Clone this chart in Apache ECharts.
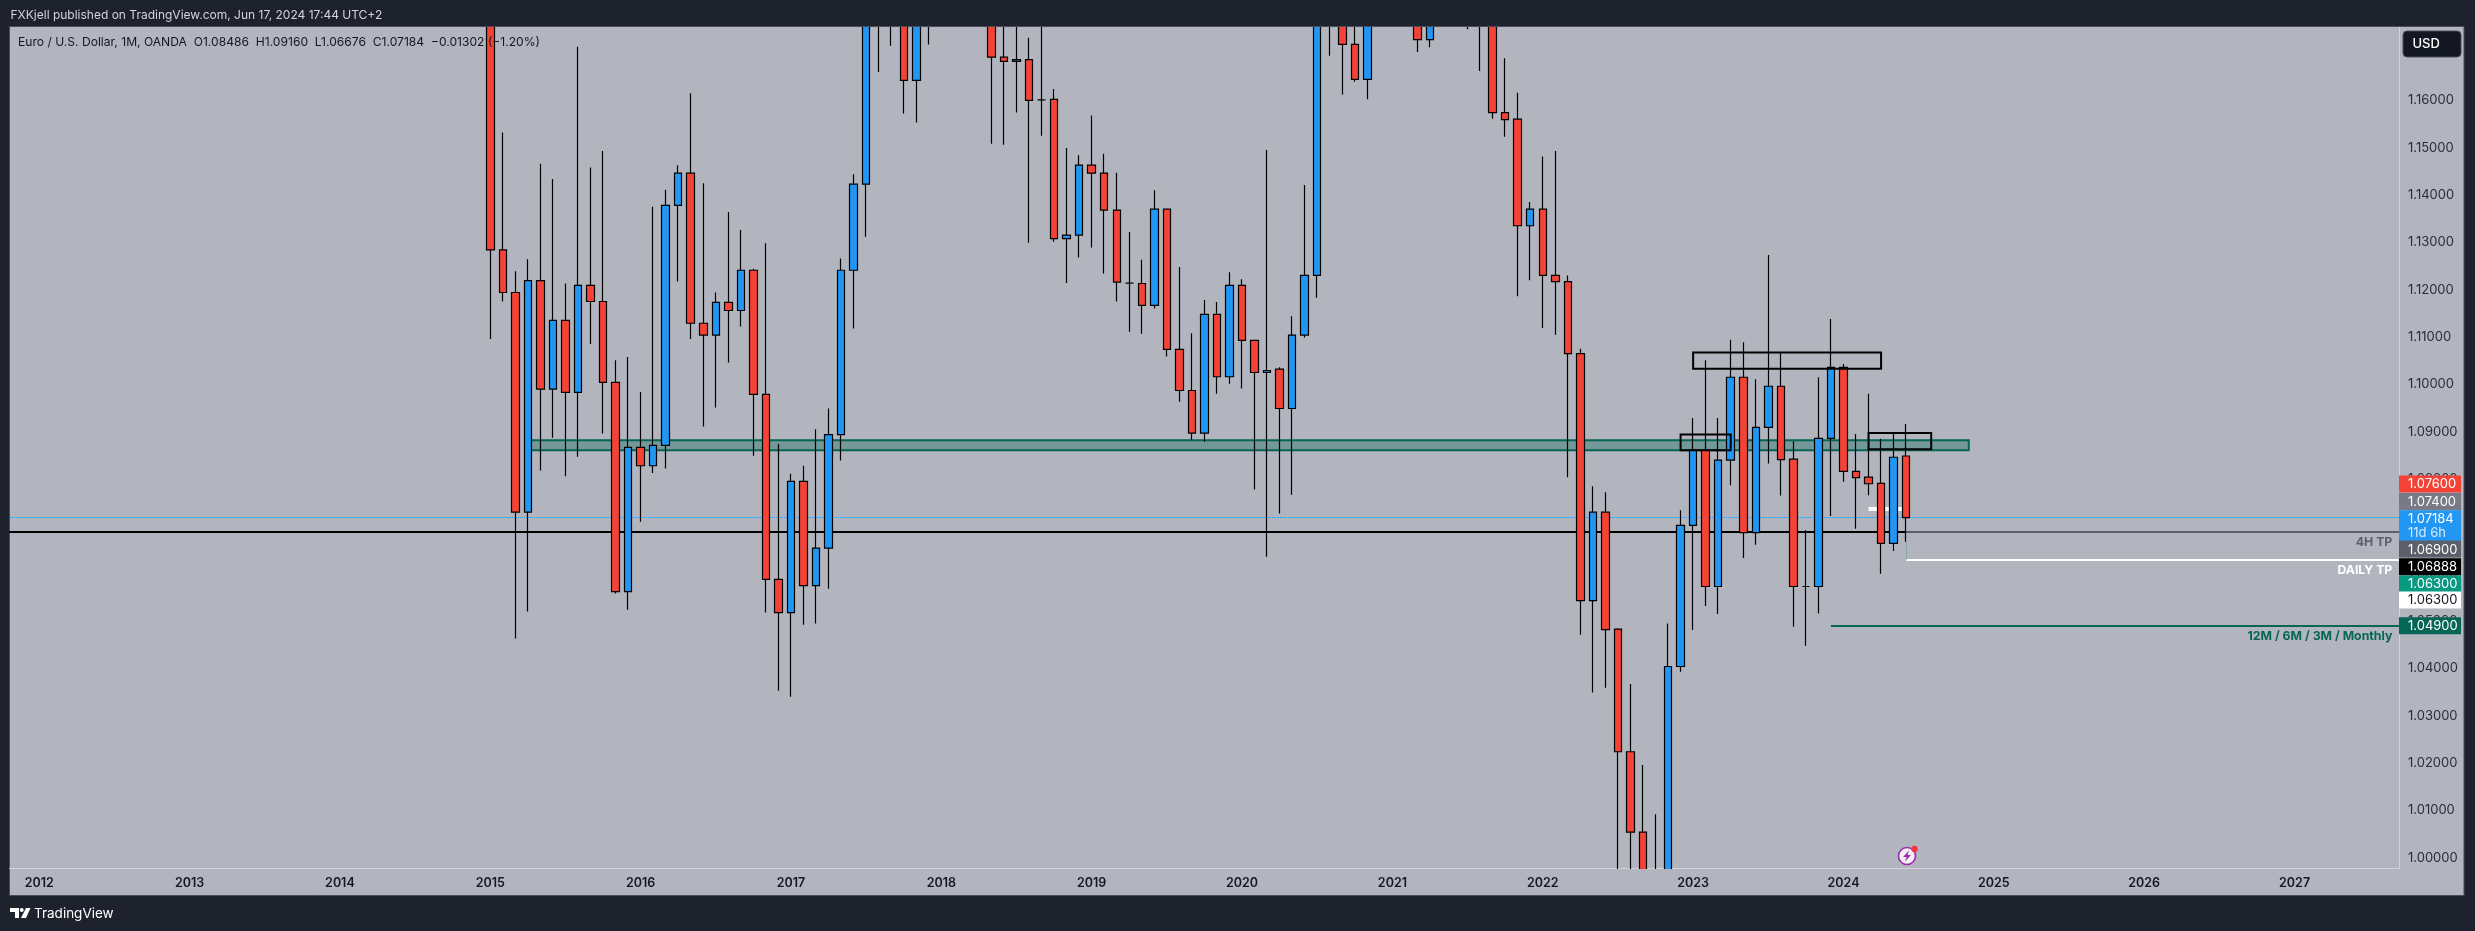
<!DOCTYPE html>
<html>
<head>
<meta charset="utf-8">
<title>Euro / U.S. Dollar, 1M, OANDA</title>
<style>
  html, body { margin: 0; padding: 0; background: #1e222d; }
  #chart { width: 2475px; height: 931px; }
</style>
<script src="https://cdn.jsdelivr.net/npm/echarts@6/dist/echarts.min.js"></script>
</head>
<body>
<div id="chart"></div>
<script>
// monthly candles, Jan 2015 .. Jun 2024
// (months whose body runs off the top/bottom of the pane are estimates)
const opens = [
  1.2097, 1.1284, 1.1194, 1.0730, 1.1219, 1.0990, 1.1135, 1.0983, 1.1209, 1.1175, 1.1004, 1.0562,
  1.0867, 1.0828, 1.0871, 1.1378, 1.1446, 1.1129, 1.1104, 1.1173, 1.1156, 1.1241, 1.0979, 1.0588,
  1.0518, 1.0795, 1.0575, 1.0654, 1.0894, 1.1241, 1.1423, 1.1840, 1.1910, 1.1812, 1.1642, 1.1900,
  1.2000, 1.2410, 1.2290, 1.2320, 1.2080, 1.1691, 1.1682, 1.1686, 1.1601, 1.1602, 1.1308, 1.1315,
  1.1463, 1.1446, 1.1368, 1.1214, 1.1213, 1.1167, 1.1370, 1.1074, 1.0987, 1.0897, 1.1148, 1.1016,
  1.1209, 1.1093, 1.1025, 1.1032, 1.0949, 1.1104, 1.1230, 1.1779, 1.1935, 1.1718, 1.1644, 1.1950,
  1.2215, 1.2135, 1.2075, 1.1728, 1.2020, 1.2230, 1.1860, 1.1870, 1.1810, 1.1574, 1.1560, 1.1335,
  1.1370, 1.1230, 1.1217, 1.1065, 1.0543, 1.0730, 1.0483, 1.0224, 1.0054, 0.9800, 0.9885, 1.0404,
  1.0702, 1.0861, 1.0573, 1.0840, 1.1015, 1.0687, 1.0909, 1.0996, 1.0842, 1.0573, 1.0573, 1.0886,
  1.1036, 1.0816, 1.0804, 1.0791, 1.0664, 1.08486
];
const closes = [
  1.1284, 1.1194, 1.0730, 1.1219, 1.0990, 1.1135, 1.0983, 1.1209, 1.1175, 1.1004, 1.0562, 1.0867,
  1.0828, 1.0871, 1.1378, 1.1446, 1.1129, 1.1104, 1.1173, 1.1156, 1.1241, 1.0979, 1.0588, 1.0518,
  1.0795, 1.0575, 1.0654, 1.0894, 1.1241, 1.1423, 1.1840, 1.1910, 1.1812, 1.1642, 1.1900, 1.2000,
  1.2410, 1.2290, 1.2320, 1.2080, 1.1691, 1.1682, 1.1686, 1.1600, 1.1601, 1.1308, 1.1315, 1.1463,
  1.1446, 1.1368, 1.1216, 1.1214, 1.1167, 1.1370, 1.1074, 1.0987, 1.0897, 1.1148, 1.1016, 1.1209,
  1.1093, 1.1025, 1.1029, 1.0949, 1.1104, 1.1230, 1.1779, 1.1935, 1.1718, 1.1644, 1.1950, 1.2215,
  1.2135, 1.2075, 1.1728, 1.2020, 1.2230, 1.1860, 1.1870, 1.1810, 1.1574, 1.1559, 1.1335, 1.1370,
  1.1230, 1.1217, 1.1065, 1.0543, 1.0730, 1.0482, 1.0224, 1.0054, 0.9800, 0.9885, 1.0404, 1.0702,
  1.0861, 1.0573, 1.0840, 1.1015, 1.0687, 1.0909, 1.0996, 1.0841, 1.0573, 1.0573, 1.0886, 1.1036,
  1.0816, 1.0803, 1.0790, 1.0664, 1.0846, 1.07184
];
const lows = [
  1.1096, 1.1175, 1.0463, 1.0520, 1.0818, 1.0887, 1.0806, 1.0847, 1.1085, 1.0896, 1.0558, 1.0524,
  1.0710, 1.0813, 1.0822, 1.1217, 1.1096, 1.0911, 1.0951, 1.1046, 1.1122, 1.0849, 1.0518, 1.0353,
  1.0340, 1.0492, 1.0495, 1.0568, 1.0839, 1.1118, 1.1312, 1.1660, 1.1715, 1.1572, 1.1553, 1.1718,
  1.1915, 1.2205, 1.2155, 1.2055, 1.1508, 1.1506, 1.1574, 1.1299, 1.1525, 1.1301, 1.1214, 1.1268,
  1.1289, 1.1234, 1.1175, 1.1111, 1.1107, 1.1160, 1.1059, 1.0963, 1.0883, 1.0879, 1.0980, 1.1001,
  1.0991, 1.0778, 1.0636, 1.0727, 1.0767, 1.1099, 1.1183, 1.1694, 1.1612, 1.1639, 1.1602, 1.1925,
  1.2060, 1.1950, 1.1702, 1.1712, 1.1985, 1.1845, 1.1750, 1.1662, 1.1561, 1.1523, 1.1186, 1.1220,
  1.1119, 1.1105, 1.0804, 1.0471, 1.0349, 1.0359, 0.9950, 0.9900, 0.9535, 0.9630, 0.9730, 1.0393,
  1.0481, 1.0532, 1.0515, 1.0787, 1.0633, 1.0661, 1.0833, 1.0765, 1.0488, 1.0448, 1.0516, 1.0722,
  1.0794, 1.0695, 1.0766, 1.0600, 1.0648, 1.06676
];
const highs = [
  1.2100, 1.1532, 1.1239, 1.1264, 1.1466, 1.1434, 1.1213, 1.1713, 1.1458, 1.1493, 1.1051, 1.1058,
  1.0984, 1.1375, 1.1411, 1.1463, 1.1615, 1.1425, 1.1194, 1.1364, 1.1326, 1.1244, 1.1298, 1.0874,
  1.0811, 1.0828, 1.0905, 1.0949, 1.1266, 1.1444, 1.1910, 1.2070, 1.2090, 1.1880, 1.1960, 1.2030,
  1.2535, 1.2555, 1.2445, 1.2415, 1.2090, 1.1850, 1.1790, 1.1732, 1.1815, 1.1624, 1.1499, 1.1484,
  1.1568, 1.1487, 1.1447, 1.1322, 1.1263, 1.1410, 1.1370, 1.1248, 1.1108, 1.1178, 1.1174, 1.1237,
  1.1222, 1.1093, 1.1495, 1.1036, 1.1144, 1.1421, 1.1910, 1.2010, 1.2010, 1.1880, 1.2000, 1.2275,
  1.2350, 1.2245, 1.2115, 1.2150, 1.2265, 1.2255, 1.1910, 1.1905, 1.1910, 1.1689, 1.1616, 1.1385,
  1.1481, 1.1493, 1.1230, 1.1075, 1.0785, 1.0772, 1.0485, 1.0367, 1.0196, 1.0092, 1.0495, 1.0734,
  1.0929, 1.1051, 1.0929, 1.1094, 1.1089, 1.1011, 1.1273, 1.1066, 1.0880, 1.0692, 1.1015, 1.1138,
  1.1043, 1.0895, 1.0980, 1.0885, 1.0895, 1.09160
];

const priceTicks = [1.00, 1.01, 1.02, 1.03, 1.04, 1.05, 1.06, 1.07, 1.08, 1.09, 1.10, 1.11, 1.12, 1.13, 1.14, 1.15, 1.16];

// price tags on the right scale, top to bottom
const tagPrices = [1.076, 1.074, 1.07184, 1.069, 1.06888, 1.063, 1.063, 1.049];
const tagTexts = ['1.07600', '1.07400', '1.07184', '1.06900', '1.06888', '1.06300', '1.06300', '1.04900'];
const tagFills = ['#f44336', '#787b86', '#2196f3', '#5d606b', '#000000', '#089981', '#ffffff', '#056656'];
const tagInks = ['#ffffff', '#ffffff', '#ffffff', '#ffffff', '#ffffff', '#ffffff', '#131722', '#ffffff'];
const tagNudge = [-14, -6, 1, 18, 35, 24.5, 40.5, 0]; // tags get pushed apart so they do not overlap

const months = [];
for (let y = 2011; y <= 2027; y++) {
  for (let m = 1; m <= 12; m++) {
    if ((y === 2011 && m < 11) || (y === 2027 && m > 10)) continue;
    months.push(y + '-' + String(m).padStart(2, '0'));
  }
}
const at = function (month) {
  return months.indexOf(month);
};

const UP = '#2196f3';
const DOWN = '#f44336';
const TEAL = '#056656';
const FONT = 'Inter, "Noto Sans", sans-serif';

const Y_MIN = 0.99784;
const Y_MAX = 1.17548;
const AXIS_SHIFT = -14.6; // last category runs past the price scale so right-hand lines reach it

// candlestick series does not clip its boxes, so hold them just past the pane edge
const hold = function (v) {
  return Math.min(Y_MAX + 0.0004, Math.max(Y_MIN - 0.0004, v));
};

const first = at('2015-01');
const candles = months.map(function (m, i) {
  const k = i - first;
  if (k < 0 || k >= opens.length) return ['-', '-', '-', '-'];
  return [hold(opens[k]), hold(closes[k]), hold(lows[k]), hold(highs[k])];
});

const hLine = function (from, to, price, color, width, type, label) {
  const style = { color: color, width: width, type: type };
  if (from === -Infinity) {
    return [
      { xAxis: from, yAxis: price, lineStyle: style, label: { show: false } },
      { xAxis: to, yAxis: price, lineStyle: style }
    ];
  }
  return [
    { coord: [from, price], lineStyle: style, label: label || { show: false } },
    { coord: [to, price], lineStyle: style }
  ];
};

const sideText = function (text, color) {
  return {
    show: true,
    position: 'insideEndBottom',
    formatter: text,
    color: color,
    fontFamily: FONT,
    fontSize: 12.3,
    fontWeight: 700,
    distance: [15, 5]
  };
};

const box = function (from, to, top, bottom) {
  return [
    { coord: [at(from), top] },
    { coord: [at(to), bottom] }
  ];
};

const renderTag = function (params, api) {
  const i = api.value(2);
  const cs = params.coordSys;
  const left = cs.x + cs.width + AXIS_SHIFT;
  const mid = api.coord([0, api.value(1)])[1] + tagNudge[i];
  const hasCountdown = tagTexts[i] === '1.07184';
  const h = hasCountdown ? 31 : 17;
  const children = [{
    type: 'rect',
    shape: { x: left, y: hasCountdown ? mid - 8.5 : mid - h / 2, width: 62, height: h },
    style: { fill: tagFills[i] }
  }, {
    type: 'text',
    style: {
      text: tagTexts[i], x: left + 9, y: mid + 0.5, fill: tagInks[i],
      font: '13px ' + FONT, verticalAlign: 'middle', align: 'left'
    }
  }];
  if (hasCountdown) {
    children.push({
      type: 'text',
      style: {
        text: '11d 6h', x: left + 9, y: mid + 14, fill: '#d6e9fb',
        font: '13px ' + FONT, verticalAlign: 'middle', align: 'left'
      }
    });
  }
  return { type: 'group', children: children };
};

const option = {
  animation: false,
  backgroundColor: '#1e222d',
  graphic: [
    { type: 'rect', z: -10, silent: true, shape: { x: 9.5, y: 26.5, width: 2454.5, height: 869 },
      style: { fill: '#b2b5be', stroke: '#4a4e5a', lineWidth: 1 } },
    // masks over the pane edges
    { type: 'rect', z: 100, silent: true, shape: { x: 0, y: 27, width: 9, height: 869 }, style: { fill: '#1e222d' } },
    { type: 'rect', z: 100, silent: true, shape: { x: 0, y: 0, width: 2475, height: 26 }, style: { fill: '#1e222d' } },
    { type: 'rect', z: 100, silent: true, shape: { x: 9, y: 26, width: 2455, height: 1 }, style: { fill: '#4a4e5a' } },
    { type: 'rect', z: 100, silent: true, shape: { x: 10, y: 869, width: 2400, height: 3 }, style: { fill: '#b2b5be' } },
    { type: 'rect', z: 100, silent: true, shape: { x: 2400, y: 866, width: 15, height: 4 }, style: { fill: '#b2b5be' } },
    { type: 'text', z: 101, style: { text: 'FXKjell published on TradingView.com, Jun 17, 2024 17:44 UTC+2',
      x: 10.5, y: 15.7, fill: '#d1d4dc', font: '12px ' + FONT, verticalAlign: 'middle' } },
    { type: 'text', z: 101, style: { text: 'Euro / U.S. Dollar, 1M, OANDA  O1.08486  H1.09160  L1.06676  C1.07184  \u22120.01302 (\u22121.20%)',
      x: 18, y: 42.7, fill: '#131722', font: '12.1px ' + FONT, verticalAlign: 'middle' } },
    { type: 'rect', z: 100, shape: { x: 2403, y: 31, width: 58, height: 26, r: 4 },
      style: { fill: '#131722', stroke: '#4a4e5a', lineWidth: 1 } },
    { type: 'text', z: 101, style: { text: 'USD', x: 2412.5, y: 44, fill: '#ffffff', font: '500 13px ' + FONT, verticalAlign: 'middle' } },
    // lightning badge
    { type: 'circle', z: 100, shape: { cx: 1907, cy: 856, r: 8.5 }, style: { fill: '#f4eef6', stroke: '#9c27b0', lineWidth: 1.6 } },
    { type: 'polygon', z: 101, shape: { points: [[1909, 850.5], [1903, 857], [1906.5, 857], [1905, 861.5], [1911, 855], [1907.5, 855]] }, style: { fill: '#9c27b0' } },
    { type: 'circle', z: 102, shape: { cx: 1914.5, cy: 849, r: 3.2 }, style: { fill: '#f23645' } },
    // TradingView logo
    { type: 'polygon', z: 100, shape: { points: [[10, 908], [19, 908], [19, 918], [15, 918], [15, 912], [10, 912]] }, style: { fill: '#ffffff' } },
    { type: 'circle', z: 100, shape: { cx: 21.7, cy: 910, r: 2 }, style: { fill: '#ffffff' } },
    { type: 'polygon', z: 100, shape: { points: [[26, 908], [30.5, 908], [26, 918], [21, 918]] }, style: { fill: '#ffffff' } },
    { type: 'text', z: 100, style: { text: 'TradingView', x: 34, y: 914, fill: '#ffffff', font: '13.5px ' + FONT, verticalAlign: 'middle' } }
  ],
  grid: { left: 7.87, width: 2405.73, top: 27, height: 841 },
  xAxis: {
    type: 'category',
    data: months,
    axisLine: { lineStyle: { color: '#d1d4dc', width: 1 } },
    axisTick: { show: false },
    splitLine: { show: false },
    axisLabel: {
      interval: function (i, v) { return v.endsWith('-01'); },
      formatter: function (v) { return v.slice(0, 4); },
      color: '#131722',
      fontFamily: FONT,
      fontSize: 12.5,
      fontWeight: 600,
      margin: 9
    }
  },
  yAxis: {
    type: 'value',
    position: 'right',
    offset: AXIS_SHIFT,
    min: Y_MIN,
    max: Y_MAX,
    axisLine: { show: true, lineStyle: { color: '#d1d4dc', width: 1 } },
    axisTick: { show: false },
    splitLine: { show: false },
    axisLabel: {
      customValues: priceTicks,
      formatter: function (v) { return v.toFixed(5); },
      color: '#2a2e39',
      fontFamily: FONT,
      fontSize: 13,
      margin: 9,
      padding: [3, 0, 0, 0]
    }
  },
  series: [{
    type: 'candlestick',
    data: candles,
    barWidth: 8,
    z: 2,
    itemStyle: {
      color: UP,
      color0: DOWN,
      borderColor: '#000000',
      borderColor0: '#000000',
      borderColorDoji: '#000000',
      borderWidth: 1.2
    },
    markArea: {
      silent: true,
      z: 1,
      itemStyle: { color: 'rgba(5,102,86,0.36)', borderColor: TEAL, borderWidth: 2 },
      data: [box('2015-04', '2024-11', 1.0882, 1.0861)]
    },
    markLine: {
      silent: true,
      z: 1,
      symbol: 'none',
      data: [
        hLine(-Infinity, Infinity, 1.07184, UP, 1, 'dotted'),
        hLine(-Infinity, Infinity, 1.06888, '#000000', 2, 'solid'),
        hLine(at('2024-06'), at('2027-10'), 1.06888, '#5d606b', 2, 'solid', sideText('4H TP', '#5d606b')),
        hLine(at('2024-06'), at('2027-10'), 1.063, '#ffffff', 2, 'solid', sideText('DAILY TP', '#ffffff')),
        hLine(at('2023-12'), at('2027-10'), 1.049, TEAL, 2, 'solid', sideText('12M / 6M / 3M / Monthly', TEAL)),
        hLine(at('2024-03'), at('2024-06'), 1.0737, '#ffffff', 4, 'solid'),
        [
          { coord: [at('2024-06'), 1.0667], lineStyle: { color: '#7fa8a6', width: 1, type: 'solid' }, label: { show: false } },
          { coord: [at('2024-06'), 1.063], lineStyle: { color: '#7fa8a6', width: 1, type: 'solid' } }
        ]
      ]
    }
  }, {
    // outlined boxes sit on top of the candles
    type: 'line',
    data: [],
    markArea: {
      silent: true,
      z: 6,
      itemStyle: { color: 'rgba(0,0,0,0)', borderColor: '#000000', borderWidth: 2 },
      data: [
        box('2023-01', '2024-04', 1.1067, 1.1033),
        box('2022-12', '2023-04', 1.0894, 1.0861),
        box('2024-03', '2024-08', 1.0897, 1.0863)
      ]
    }
  }, {
    type: 'custom',
    z: 50,
    renderItem: renderTag,
    encode: { x: 0, y: 1 },
    data: tagPrices.map(function (p, i) { return [at('2027-10'), p, i]; })
  }]
};

const chart = echarts.init(document.getElementById('chart'));
chart.setOption(option);
</script>
</body>
</html>
